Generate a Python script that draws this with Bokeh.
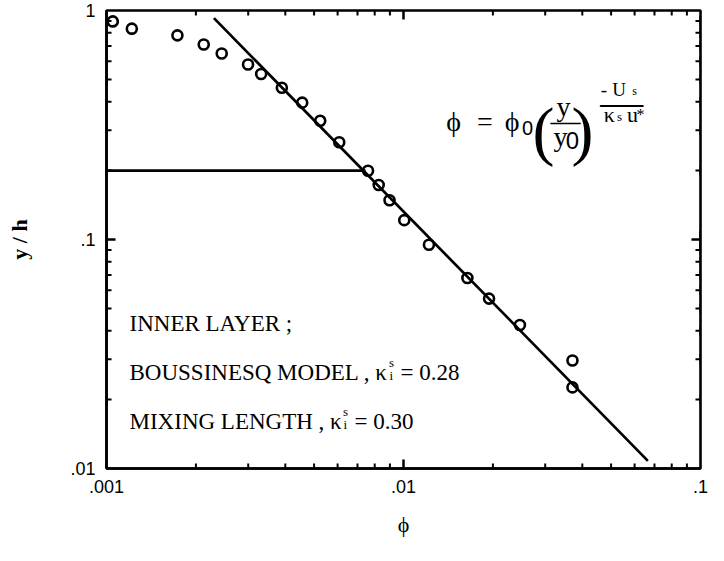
import math
from bokeh.plotting import figure
from bokeh.models import FixedTicker, Label
from bokeh.embed import file_html
from bokeh.resources import INLINE

# ---- data ----
phi = [0.00105, 0.001217, 0.001733, 0.002125, 0.002443, 0.002996, 0.003317,
       0.003894, 0.00456, 0.005244, 0.006076, 0.007596, 0.00825, 0.008974,
       0.01006, 0.01218, 0.01641, 0.01941, 0.02466, 0.03706, 0.03706]
y_h = [0.896, 0.833, 0.779, 0.710, 0.649, 0.581, 0.528,
       0.460, 0.396, 0.330, 0.266, 0.1996, 0.1729, 0.1484,
       0.1215, 0.0949, 0.0679, 0.0552, 0.0423, 0.0296, 0.0226]
fit_phi = [0.0023, 0.0665]
fit_y = [0.926, 0.0108]
ref_phi = [0.001, 0.00745]
ref_y = [0.2, 0.2]
x_ticks = [0.001, 0.01, 0.1]
x_tick_labels = [".001", ".01", ".1"]
y_ticks = [0.01, 0.1, 1.0]
y_tick_labels = [".01", ".1", "1"]

SERIF = "Liberation Serif"
SANS = "Liberation Sans"

# frame position on the page (px)
FL, FR, FT, FB = 114, 708, 18, 476

p = figure(width=708, height=545, x_axis_type="log", y_axis_type="log",
           x_range=(x_ticks[0], x_ticks[-1]), y_range=(y_ticks[0], y_ticks[-1]),
           output_backend="svg", toolbar_location=None,
           min_border_left=FL - 8, min_border_right=716 - FR,
           min_border_top=FT - 8, min_border_bottom=553 - FB)
p.grid.visible = False
p.outline_line_color = "black"
p.outline_line_width = 2.6
p.background_fill_color = "white"
p.border_fill_color = "white"


def minor_list(ticks):
    out = []
    for t in ticks[:-1]:
        out += [k * t for k in range(2, 10)]
    return out


def style_axis(ax, ticks, labels):
    ax.ticker = FixedTicker(ticks=ticks, minor_ticks=minor_list(ticks))
    ax.major_tick_in = 0
    ax.major_tick_out = 0
    ax.minor_tick_in = 0
    ax.minor_tick_out = 0
    ax.axis_line_width = 2.6
    ax.axis_line_color = "black"
    ax.major_label_overrides = {t: l for t, l in zip(ticks, labels)}
    ax.major_label_text_font = SANS
    ax.major_label_text_font_size = "18px"
    ax.major_label_text_color = "black"
    ax.major_label_standoff = 11
    ax.axis_label_text_font = SERIF
    ax.axis_label_text_font_size = "22px"
    ax.axis_label_text_color = "black"


xa = p.below[0]
ya = p.left[0]
style_axis(xa, x_ticks, x_tick_labels)
style_axis(ya, y_ticks, y_tick_labels)
xa.axis_label = "ϕ"
xa.axis_label_text_font_style = "normal"
xa.axis_label_standoff = 16
ya.axis_label = "y / h"
ya.axis_label_text_font_style = "bold"
ya.axis_label_standoff = 35

# ---- inward tick marks on all four sides ----
EPS = 1.0002
x_lo, x_hi = x_ticks[0] * EPS, x_ticks[-1] / EPS
x_major_in = x_ticks[1:-1]
y_major_in = y_ticks[1:-1]
x_minor = minor_list(x_ticks)
y_minor = minor_list(y_ticks)

# left / right: horizontal arms of a cross centred on the edge (outer half clipped)
for ys_, size_, lw_ in ((y_major_in, 18, 2.5), (y_minor, 10, 2.0)):
    for xedge in (x_lo, x_hi):
        p.scatter([xedge] * len(ys_), ys_, marker="cross",
                  size=size_, line_color="black", line_width=lw_)

# bottom / top: short rays that start inside the frame and run out to the edge
DEC_PX = (FB - FT) / (math.log10(y_ticks[-1]) - math.log10(y_ticks[0]))
for xs_, len_px, lw_ in ((x_major_in, 9, 2.5), (x_minor, 5, 2.0)):
    k = 10 ** (len_px / DEC_PX)
    n = len(xs_)
    p.ray(x=xs_, y=[y_ticks[0] * k] * n, length=len_px + 3, length_units="screen",
          angle=-math.pi / 2, line_color="black", line_width=lw_)
    p.ray(x=xs_, y=[y_ticks[-1] / k] * n, length=len_px + 3, length_units="screen",
          angle=math.pi / 2, line_color="black", line_width=lw_)

# ---- marks ----
p.line(ref_phi, ref_y, line_color="black", line_width=2.7)
p.line(fit_phi, fit_y, line_color="black", line_width=2.7)
p.scatter(phi, y_h, marker="circle", size=10, fill_color=None,
          line_color="black", line_width=2.6)


# ---- text (page pixel positions converted to frame screen units) ----
def lab(text, px, py, size, font=SERIF, align="center", style="normal",
        baseline="alphabetic"):
    p.add_layout(Label(x=px - FL, y=FB - py, x_units="screen", y_units="screen",
                       text=text, text_font=font, text_font_size=f"{size}px",
                       text_font_style=style, text_align=align,
                       text_baseline=baseline, text_color="black"))


def bar(xc, width, py):
    # a fraction bar drawn as an em dash (its stroke sits ~0.225 em above the baseline)
    lab("—", xc, py + 0.225 * width, width)


# formula  phi = phi0 (y/y0)^(-Us/(ks u*))
lab("ϕ", 461, 129, 28)
lab("=", 492.5, 129, 28)
lab("ϕ", 519.5, 129, 28)
lab("0", 535, 135, 20, font=SANS)
lab("(", 551, 138, 66)
lab(")", 590, 138, 66)
lab("y", 571, 114, 28)
bar(573, 30, 121.7)
lab("y", 568, 144, 28)
lab("0", 580, 148, 24, font=SANS)
lab("-", 611.5, 96.7, 19)
lab("U", 626.5, 96.7, 19)
lab("s", 642, 98.0, 12)
bar(629.2, 43, 99.6)
lab("κ", 616.7, 121.7, 22)
lab("s", 627, 124, 13)
lab("u", 640, 121.7, 22)
lab("*", 648, 121.7, 16)

# annotation block, lower left
TX = 137
FS = 23
lab("INNER LAYER ;", TX, 331, FS, align="left")
lines = [("BOUSSINESQ MODEL , κ", 10.722, "= 0.28", 380),
         ("MIXING LENGTH , κ", 8.720, "= 0.30", 429)]
for txt, em, val, base in lines:
    lab(txt, TX, base, FS, align="left")
    kx = TX + (em + 0.52) * FS + 1
    lab("s", kx, base - 10, 13, align="left")
    lab("i", kx + 0.5, base + 3, 13, align="left")
    lab(val, kx + 11.5, base, FS, align="left")

open("out.html", "w").write(file_html(p, INLINE))
